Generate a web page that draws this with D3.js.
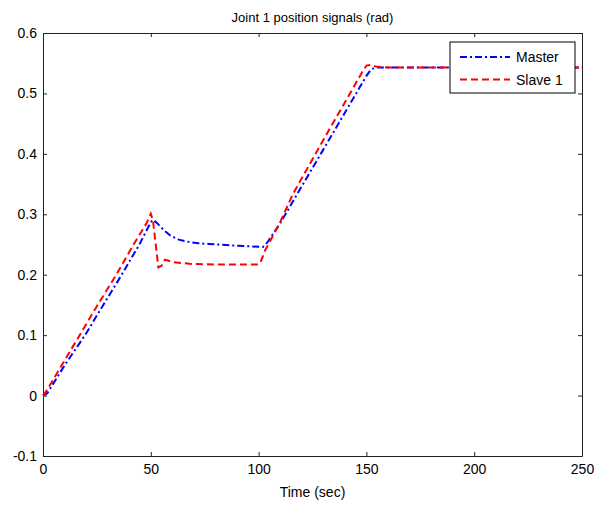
<!DOCTYPE html>
<html>
<head>
<meta charset="utf-8">
<script src="https://cdn.jsdelivr.net/npm/d3@7"></script>
<style>
  body { margin: 0; background: #fff; }
  text { font-family: "Liberation Sans", Arial, sans-serif; fill: #000; }
</style>
</head>
<body>
<svg id="chart" width="598" height="506"></svg>
<script>
// Master (blue, dash-dot)
const masterTime = [0, 2, 10, 19.5, 30, 36.5, 45, 50, 51, 53, 56, 59, 63, 68, 72, 77, 85, 95, 102, 104, 110, 118, 130, 140, 150, 152, 154, 160, 200, 250];
const masterPos = [0, 0.004, 0.05, 0.1, 0.162, 0.2, 0.252, 0.287, 0.291, 0.285, 0.274, 0.265, 0.258, 0.254, 0.252, 0.251, 0.249, 0.247, 0.246, 0.253, 0.285, 0.334, 0.407, 0.468, 0.529, 0.539, 0.543, 0.543, 0.543, 0.543];
// Slave 1 (red, dashed)
const slaveTime = [0, 2, 10, 17, 25, 34, 42, 48, 50, 51, 53.5, 55, 56.6, 60, 68, 80, 90, 100, 101, 103, 110, 116, 130, 140, 148, 150, 152, 155, 160, 200, 250];
const slavePos = [0, 0.01, 0.058, 0.1, 0.148, 0.2, 0.25, 0.285, 0.301, 0.29, 0.212, 0.215, 0.225, 0.221, 0.218, 0.217, 0.217, 0.217, 0.222, 0.24, 0.287, 0.334, 0.423, 0.485, 0.535, 0.546, 0.547, 0.544, 0.543, 0.543, 0.543];

const xTicks = [0, 50, 100, 150, 200, 250];
const yTicks = [-0.1, 0, 0.1, 0.2, 0.3, 0.4, 0.5, 0.6];
const seriesNames = ['Master', 'Slave 1'];

const svg = d3.select('#chart');
const plot = { left: 43, top: 33, right: 582, bottom: 456 };

const x = d3.scaleLinear().domain([0, 250]).range([plot.left, plot.right]);
const y = d3.scaleLinear().domain([-0.1, 0.6]).range([plot.bottom, plot.top]);

const fmt = d => (Math.abs(d) < 1e-9 ? '0' : String(+d.toFixed(1)));

// axes: bottom/left labelled, top/right ticks only, ticks point inward
svg.append('g')
  .attr('transform', `translate(0,${plot.bottom})`)
  .call(d3.axisBottom(x).tickValues(xTicks).tickSizeInner(-4).tickSizeOuter(0).tickPadding(8).tickFormat(fmt))
  .call(g => g.selectAll('text').attr('font-size', 14));

svg.append('g')
  .attr('transform', `translate(${plot.left},0)`)
  .call(d3.axisLeft(y).tickValues(yTicks).tickSizeInner(-4).tickSizeOuter(0).tickPadding(6).tickFormat(fmt))
  .call(g => g.selectAll('text').attr('font-size', 14));

svg.append('g')
  .attr('transform', `translate(0,${plot.top})`)
  .call(d3.axisTop(x).tickValues(xTicks).tickSizeInner(-4).tickSizeOuter(0).tickFormat(''));

svg.append('g')
  .attr('transform', `translate(${plot.right},0)`)
  .call(d3.axisRight(y).tickValues(yTicks).tickSizeInner(-4).tickSizeOuter(0).tickFormat(''));

svg.selectAll('.domain, .tick line').attr('stroke', '#222').attr('stroke-width', 1);

const line = d3.line().x(d => x(d[0])).y(d => y(d[1]));

const master = d3.zip(masterTime, masterPos);
const slave = d3.zip(slaveTime, slavePos);

svg.append('path')
  .attr('d', line(master))
  .attr('fill', 'none')
  .attr('stroke', '#0000ff')
  .attr('stroke-width', 2)
  .attr('stroke-dasharray', '7,3,2,3');

svg.append('path')
  .attr('d', line(slave))
  .attr('fill', 'none')
  .attr('stroke', '#ff0000')
  .attr('stroke-width', 2)
  .attr('stroke-dasharray', '7,4');

// title + label
svg.append('text')
  .attr('x', (plot.left + plot.right) / 2)
  .attr('y', 22)
  .attr('text-anchor', 'middle')
  .attr('font-size', 13)
  .text('Joint 1 position signals (rad)');

svg.append('text')
  .attr('x', (plot.left + plot.right) / 2)
  .attr('y', 497)
  .attr('text-anchor', 'middle')
  .attr('font-size', 14)
  .text('Time (sec)');

// legend
const legend = svg.append('g').attr('transform', 'translate(450,42)');
legend.append('rect')
  .attr('width', 125).attr('height', 51)
  .attr('fill', '#fff').attr('stroke', '#000').attr('stroke-width', 1);

const styles = [
  { color: '#0000ff', dash: '7,3,2,3' },
  { color: '#ff0000', dash: '7,4' },
];
seriesNames.forEach((name, i) => {
  const ly = 15 + i * 22.5;
  legend.append('line')
    .attr('x1', 10).attr('x2', 60).attr('y1', ly).attr('y2', ly)
    .attr('stroke', styles[i].color).attr('stroke-width', 2)
    .attr('stroke-dasharray', styles[i].dash);
  legend.append('text')
    .attr('x', 66).attr('y', ly + 5)
    .attr('font-size', 14)
    .text(name);
});
</script>
</body>
</html>
